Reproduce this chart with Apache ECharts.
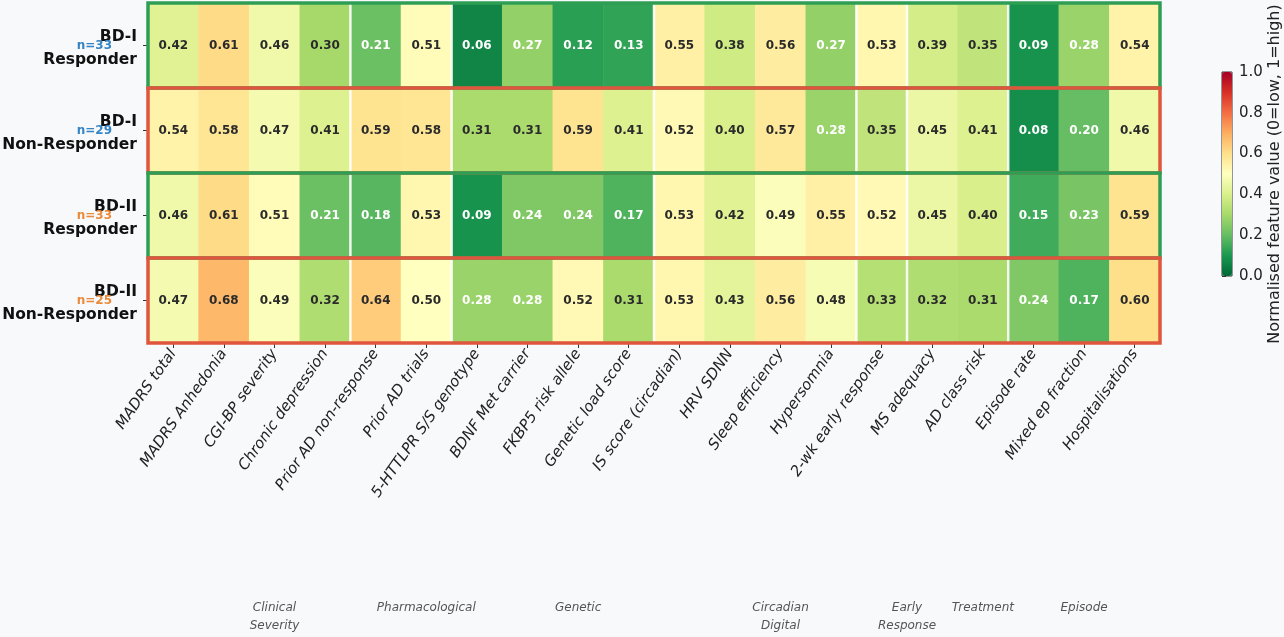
<!DOCTYPE html>
<html>
<head>
<meta charset="utf-8">
<script src="https://cdn.jsdelivr.net/npm/echarts@6/dist/echarts.min.js"></script>
<style>
  html, body { margin: 0; padding: 0; background: #f8f9fa; }
  #main { width: 1284px; height: 637px; }
</style>
</head>
<body>
<div id="main"></div>
<script>
// rows and columns of the heatmap
var rowLabels = ['BD-I\nResponder', 'BD-I\nNon-Responder', 'BD-II\nResponder', 'BD-II\nNon-Responder'];
var rowN = ['n=33', 'n=29', 'n=33', 'n=25'];
var rowSubtype = ['BD-I', 'BD-I', 'BD-II', 'BD-II'];
var rowResponder = [true, false, true, false];

var features = [
    'MADRS total', 'MADRS Anhedonia', 'CGI-BP severity', 'Chronic depression',
    'Prior AD non-response', 'Prior AD trials',
    '5-HTTLPR S/S genotype', 'BDNF Met carrier', 'FKBP5 risk allele', 'Genetic load score',
    'IS score (circadian)', 'HRV SDNN', 'Sleep efficiency', 'Hypersomnia',
    '2-wk early response',
    'MS adequacy', 'AD class risk',
    'Episode rate', 'Mixed ep fraction', 'Hospitalisations'
];

var valsBD1Resp    = [0.42, 0.61, 0.46, 0.30, 0.21, 0.51, 0.06, 0.27, 0.12, 0.13, 0.55, 0.38, 0.56, 0.27, 0.53, 0.39, 0.35, 0.09, 0.28, 0.54];
var valsBD1NonResp = [0.54, 0.58, 0.47, 0.41, 0.59, 0.58, 0.31, 0.31, 0.59, 0.41, 0.52, 0.40, 0.57, 0.28, 0.35, 0.45, 0.41, 0.08, 0.20, 0.46];
var valsBD2Resp    = [0.46, 0.61, 0.51, 0.21, 0.18, 0.53, 0.09, 0.24, 0.24, 0.17, 0.53, 0.42, 0.49, 0.55, 0.52, 0.45, 0.40, 0.15, 0.23, 0.59];
var valsBD2NonResp = [0.47, 0.68, 0.49, 0.32, 0.64, 0.50, 0.28, 0.28, 0.52, 0.31, 0.53, 0.43, 0.56, 0.48, 0.33, 0.32, 0.31, 0.24, 0.17, 0.60];

// feature groups (first and last column index)
var groupNames = ['Clinical\nSeverity', 'Pharmacological', 'Genetic', 'Circadian\nDigital', 'Early\nResponse', 'Treatment', 'Episode'];
var groupStart = [0, 4, 6, 10, 14, 15, 17];
var groupEnd   = [3, 5, 9, 13, 14, 16, 19];
// column the group caption is centred on
var groupAnchor = [2, 5, 8, 12, 14.5, 16, 18];

var colorTicks = [0, 0.2, 0.4, 0.6, 0.8, 1.0];

var allRows = [valsBD1Resp, valsBD1NonResp, valsBD2Resp, valsBD2NonResp];

var FONT = "'DejaVu Sans', sans-serif";
var GREEN = '#2f9e55';
var RED = '#e0553d';

var heatData = [];
allRows.forEach(function (vals, r) {
    vals.forEach(function (v, c) {
        heatData.push({
            value: [c, r, v],
            label: { color: v < 0.3 ? '#ffffff' : '#2b2b2b' }
        });
    });
});

// boundaries between groups -> white separators
var sepData = [];
for (var g = 0; g < groupEnd.length - 1; g++) sepData.push([groupEnd[g], 0]);

var rowBoxData = rowLabels.map(function (l, r) { return [0, r, rowResponder[r] ? 1 : 0]; });

var myChart = echarts.init(document.getElementById('main'));

option = {
    backgroundColor: '#f8f9fa',
    animation: false,
    grid: [
        { left: 148, top: 3, width: 1012, height: 340, outerBoundsMode: 'none', containLabel: false },
        { left: 1222, top: 72, width: 10, height: 204, outerBoundsMode: 'none', containLabel: false,
          show: true, borderColor: '#333', borderWidth: 1, backgroundColor: 'transparent' }
    ],
    xAxis: [
        {
            type: 'category',
            gridIndex: 0,
            data: features,
            axisLine: { show: false },
            axisTick: { show: true, length: 5, alignWithLabel: true, lineStyle: { color: '#333' } },
            axisLabel: {
                rotate: 55, interval: 0, margin: 8,
                fontFamily: FONT, fontStyle: 'italic', fontSize: 15, color: '#222'
            },
            splitLine: { show: false }
        },
        { type: 'value', gridIndex: 1, show: false, min: 0, max: 1 }
    ],
    yAxis: [
        {
            type: 'category',
            gridIndex: 0,
            data: rowLabels,
            inverse: true,
            axisLine: { show: false },
            axisTick: { show: true, length: 5, alignWithLabel: true, lineStyle: { color: '#333' } },
            axisLabel: {
                margin: 11, align: 'right',
                formatter: function (v) {
                    // small blank first line nudges the two-line label down a little
                    return '{s| }\n' + v.split('\n').map(function (t) { return '{b|' + t + '}'; }).join('\n');
                },
                rich: {
                    s: { fontSize: 2, lineHeight: 6 },
                    b: { fontFamily: FONT, fontWeight: 'bold', fontSize: 15.5, lineHeight: 23, color: '#111', align: 'right' }
                }
            }
        },
        {
            type: 'category',
            gridIndex: 0,
            data: rowN,
            inverse: true,
            position: 'left',
            axisLine: { show: false },
            axisTick: { show: false },
            axisLabel: {
                margin: 36, align: 'right',
                fontFamily: FONT, fontWeight: 'bold', fontSize: 12,
                color: function (value, index) {
                    return rowSubtype[index] === 'BD-I' ? '#3584c4' : '#ea8a3a';
                }
            }
        },
        {
            type: 'value',
            gridIndex: 1,
            position: 'right',
            min: 0, max: 1, interval: 0.2,
            axisLine: { show: false },
            axisTick: { show: true, length: 4, lineStyle: { color: '#333' } },
            splitLine: { show: false },
            axisLabel: {
                margin: 7, fontFamily: FONT, fontSize: 15, color: '#222',
                formatter: function (v) { return v.toFixed(1); }
            },
            name: 'Normalised feature value (0=low, 1=high)',
            nameLocation: 'middle',
            nameRotate: 90,
            nameGap: 28,
            nameTextStyle: { fontFamily: FONT, fontSize: 16, color: '#222' }
        }
    ],
    visualMap: {
        type: 'continuous',
        min: 0, max: 1,
        seriesIndex: 0,
        calculable: false,
        orient: 'vertical',
        left: 1222, top: 72,
        itemWidth: 10, itemHeight: 204,
        padding: 0,
        text: null,
        showLabel: false,
        inRange: {
            color: ['#006837', '#1a9850', '#66bd63', '#a6d96a', '#d9ef8b', '#ffffbf',
                    '#fee08b', '#fdae61', '#f46d43', '#d73027', '#a50026']
        }
    },
    series: [
        {
            type: 'heatmap',
            xAxisIndex: 0, yAxisIndex: 0,
            data: heatData,
            label: {
                show: true,
                fontFamily: FONT, fontWeight: 'bold', fontSize: 12,
                formatter: function (p) { return p.value[2].toFixed(2); }
            },
            itemStyle: { borderWidth: 0 },
            emphasis: { disabled: true }
        },
        {
            type: 'custom',
            xAxisIndex: 0, yAxisIndex: 0,
            data: sepData,
            z: 3,
            renderItem: function (params, api) {
                var c = api.coord([api.value(0), 0]);
                var s = api.size([1, 1]);
                var x = c[0] + s[0] / 2;
                var top = params.coordSys.y;
                var h = params.coordSys.height;
                return {
                    type: 'line',
                    shape: { x1: x, y1: top, x2: x, y2: top + h },
                    style: { stroke: '#ffffff', lineWidth: 2.5, opacity: 0.9 }
                };
            }
        },
        {
            type: 'custom',
            xAxisIndex: 0, yAxisIndex: 0,
            data: rowBoxData,
            z: 4,
            renderItem: function (params, api) {
                var c = api.coord([0, api.value(1)]);
                var s = api.size([1, 1]);
                return {
                    type: 'rect',
                    shape: {
                        x: params.coordSys.x,
                        y: c[1] - s[1] / 2,
                        width: params.coordSys.width,
                        height: s[1]
                    },
                    style: {
                        fill: 'none',
                        stroke: api.value(2) ? GREEN : RED,
                        lineWidth: 3.5
                    }
                };
            }
        }
    ]
};

myChart.setOption(option);

// group captions under the rotated feature labels
var captions = groupNames.map(function (name, i) {
    var a = groupAnchor[i];
    var lo = Math.floor(a), hi = Math.ceil(a);
    var pLo = myChart.convertToPixel({ gridIndex: 0 }, [lo, 0]);
    var pHi = myChart.convertToPixel({ gridIndex: 0 }, [hi, 0]);
    var x = pLo[0] + (pHi[0] - pLo[0]) * (a - lo);
    return {
        type: 'text',
        x: x,
        y: 599,
        style: {
            text: name,
            textAlign: 'center',
            textVerticalAlign: 'top',
            fontFamily: FONT,
            fontStyle: 'italic',
            fontSize: 12,
            lineHeight: 18,
            fill: '#555'
        }
    };
});
myChart.setOption({ graphic: captions });

window.onresize = function () {
    setTimeout(function () { myChart.resize(); }, 100);
};
</script>
</body>
</html>
